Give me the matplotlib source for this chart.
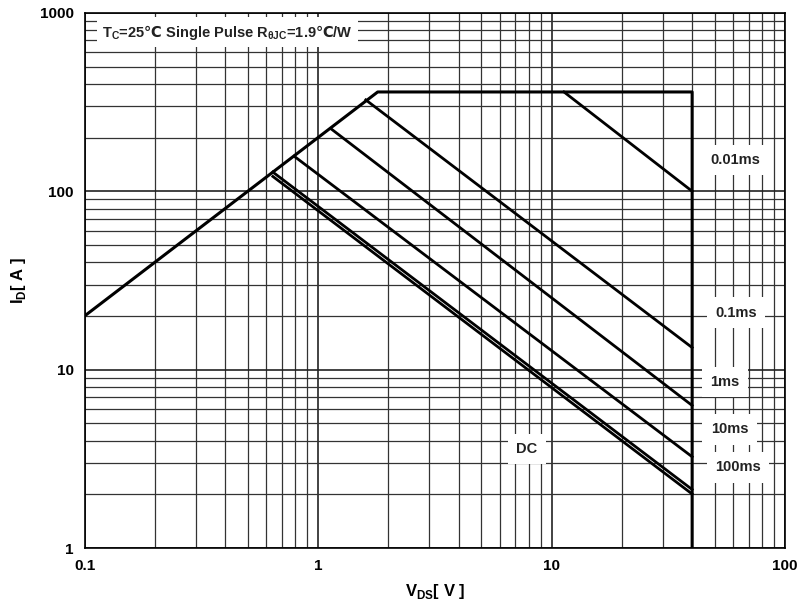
import matplotlib.pyplot as plt
import numpy as np

plt.rcParams['font.family'] = ['Liberation Sans', 'DejaVu Sans']
plt.rcParams['mathtext.fontset'] = 'custom'
plt.rcParams['mathtext.rm'] = 'Liberation Sans:bold'
plt.rcParams['mathtext.sf'] = 'DejaVu Sans:bold'

# boundary: Rds(on) limit, current limit, voltage limit
soa_v = [0.1, 1.8, 40, 40]
soa_i = [20, 360, 360, 1]

# pulse lines, each from start point to V = 40
pulse_names = ["0.01ms", "0.1ms", "1ms", "10ms", "100ms", "DC"]
pulse_v_start = [11.3, 1.6, 1.14, 0.79, 0.64, 0.64]
pulse_i_start = [360, 325, 223, 157, 128, 121]
pulse_v_end = [40, 40, 40, 40, 40, 40]
pulse_i_end = [100, 13.3, 6.3, 3.25, 2.13, 2.01]

label_x = [0.893, 0.9, 0.893, 0.894, 0.9, 0.616]
label_y = [0.725, 0.44, 0.31, 0.222, 0.151, 0.185]

x_ticks = [0.1, 1, 10, 100]
x_ticklabels = ["0.1", "1", "10", "100"]
y_ticks = [1, 10, 100, 1000]
y_ticklabels = ["1", "10", "100", "1000"]

fig = plt.figure(figsize=(8.06, 6.09), dpi=100)
ax = fig.add_axes([0.105, 0.1, 0.869, 0.879])
ax.set_xscale("log")
ax.set_yscale("log")
ax.set_xlim(0.1, 100)
ax.set_ylim(1, 1000)

ax.grid(True, which="major", color="#222222", linewidth=1.2)
ax.grid(True, which="minor", color="#333333", linewidth=0.9)
ax.set_axisbelow(True)

ax.plot(soa_v, soa_i, color="black", linewidth=2.2, zorder=3)
for i in range(len(pulse_names)):
    ax.plot([pulse_v_start[i], pulse_v_end[i]], [pulse_i_start[i], pulse_i_end[i]],
            color="black", linewidth=2.0, zorder=3)
    ax.text(label_x[i], label_y[i], pulse_names[i], transform=ax.transAxes,
            fontsize=10.5, fontweight="bold", color="#222222", zorder=4, va="center",
            bbox=dict(facecolor="white", edgecolor="none", pad=6))

ax.text(0.025, 0.955,
        "T$_\\mathrm{C}$=25$\\mathsf{℃}$ Single Pulse R$_\\mathrm{θJC}$=1.9$\\mathsf{℃}$/W",
        transform=ax.transAxes, fontsize=10.5, fontweight="bold", color="#222222",
        zorder=4, bbox=dict(facecolor="white", edgecolor="none", pad=4))

ax.set_xticks(x_ticks)
ax.set_xticklabels(x_ticklabels)
ax.set_yticks(y_ticks)
ax.set_yticklabels(y_ticklabels)
ax.tick_params(which="both", length=0, labelsize=11, pad=8)
for lab in ax.get_xticklabels() + ax.get_yticklabels():
    lab.set_fontweight("bold")

ax.set_xlabel("V$_\\mathrm{DS}$[ V ]", fontsize=12, fontweight="bold", labelpad=6)
ax.set_ylabel("I$_\\mathrm{D}$[ A ]", fontsize=12, fontweight="bold", labelpad=8)

for s in ax.spines.values():
    s.set_linewidth(1.2)

fig.savefig("out.png", dpi=100)
